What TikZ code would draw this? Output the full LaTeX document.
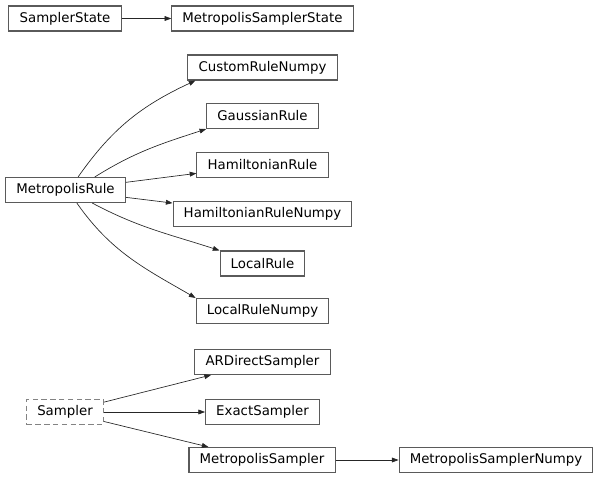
\documentclass[tikz,border=0pt]{standalone}
\usepackage{fontspec}
\setmainfont{DejaVu Sans}
\usetikzlibrary{arrows.meta}
\definecolor{boxline}{HTML}{5A5A5A}
\definecolor{edgeline}{HTML}{262626}

\begin{document}
\begin{tikzpicture}[
    x=0.75pt, y=0.75pt,
    font=\fontsize{10}{12}\selectfont,
    cls/.style={draw=boxline, line width=0.8pt, fill=white, inner xsep=8pt, inner ysep=0pt, minimum height=18.75pt},
    abstractcls/.style={cls, dash pattern=on 4pt off 2.6pt, draw=boxline!75},
    edge/.style={draw=edgeline, line width=0.5pt, -{Triangle[length=5pt,width=3.6pt]}}
]

    % Canvas
    \useasboundingbox (0,0) rectangle (597,480);

    % Sampler states
    \node[cls] (SamplerState) at (65,461.5) {SamplerState};
    \node[cls] (MetropolisSamplerState) at (262.5,461.5) {MetropolisSamplerState};
    \draw[edge] (SamplerState) -- (MetropolisSamplerState);

    % Metropolis rules
    \node[cls] (MetropolisRule) at (65.5,290) {MetropolisRule};
    \foreach \name/\y in {CustomRuleNumpy/412.5, GaussianRule/364, HamiltonianRule/315,
                          HamiltonianRuleNumpy/266, LocalRule/216.5, LocalRuleNumpy/169} {
        \node[cls] (\name) at (262.5,\y) {\name};
    }
    \draw[edge] (MetropolisRule.46) to[out=55, in=205] (CustomRuleNumpy.191);
    \draw[edge] (MetropolisRule.24) to[out=32, in=198] (GaussianRule.south west);
    \draw[edge] (MetropolisRule) -- (HamiltonianRule);
    \draw[edge] (MetropolisRule) -- (HamiltonianRuleNumpy);
    \draw[edge] (MetropolisRule.334) to[out=-28, in=162] (LocalRule.north west);
    \draw[edge] (MetropolisRule.311) to[out=-55, in=150] (LocalRuleNumpy.north west);

    % Samplers
    \node[abstractcls] (Sampler) at (65,68) {Sampler};
    \node[cls] (ARDirectSampler) at (262.5,118) {ARDirectSampler};
    \node[cls] (ExactSampler) at (262.5,68) {ExactSampler};
    \node[cls] (MetropolisSampler) at (262,20) {MetropolisSampler};
    \node[cls] (MetropolisSamplerNumpy) at (496,20) {MetropolisSamplerNumpy};
    \draw[edge] (Sampler) -- (ARDirectSampler);
    \draw[edge] (Sampler) -- (ExactSampler);
    \draw[edge] (Sampler) -- (MetropolisSampler);
    \draw[edge] (MetropolisSampler) -- (MetropolisSamplerNumpy);

\end{tikzpicture}
\end{document}
